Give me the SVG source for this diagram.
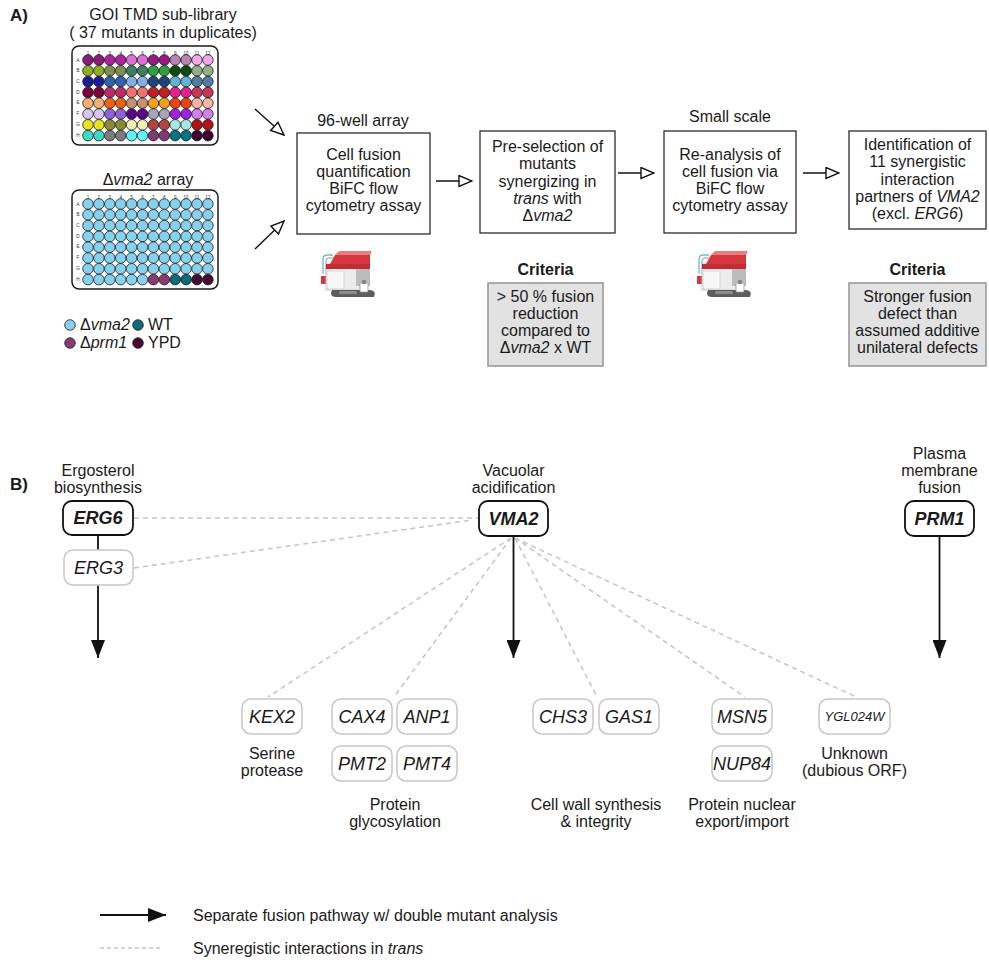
<svg xmlns="http://www.w3.org/2000/svg" xmlns:xlink="http://www.w3.org/1999/xlink" width="989" height="962" viewBox="0 0 989 962">
<style>
  text { font-family: "Liberation Sans", Arial, Helvetica, sans-serif; fill: #1a1a1a; }
  .t16 { font-size: 16px; }
  .c { text-anchor: middle; }
  .b { font-weight: bold; }
  .i { font-style: italic; }
  .lab { font-size: 17px; font-weight: bold; }
  .box { fill: #fff; stroke: #2b2b2b; stroke-width: 1.3; }
  .crit { fill: #e2e2e2; stroke: #9a9a9a; stroke-width: 1.6; }
  .plate { fill: #fff; stroke: #1a1a1a; stroke-width: 1.5; }
  .w circle { r: 5.3px; stroke: #1a1a1a; stroke-width: 0.8; }
  .tiny { font-size: 4.6px; fill: #333; text-anchor: middle; }
  .key { fill: #fff; stroke: #111; stroke-width: 1.8; }
  .gene { fill: #fff; stroke: #c6c6c6; stroke-width: 1.5; }
  .gt { font-size: 18px; font-style: italic; text-anchor: middle; }
  .dash { fill: none; stroke: #c4c4c4; stroke-width: 1.5; stroke-dasharray: 5 4; }
  .solid { fill: none; stroke: #111; stroke-width: 1.8; }
  .open { fill: none; stroke: #111; stroke-width: 1.4; }
</style>
<defs>
  <marker id="headOpen" viewBox="0 0 15 13" refX="14" refY="6.5" markerWidth="15" markerHeight="13" markerUnits="userSpaceOnUse" orient="auto">
    <path d="M1,1 L14,6.5 L1,12 Z" fill="#fff" stroke="#111" stroke-width="1.4" stroke-linejoin="miter"/>
  </marker>
  <marker id="headSolid" viewBox="0 0 18 14" refX="18" refY="7" markerWidth="18" markerHeight="14" markerUnits="userSpaceOnUse" orient="auto">
    <path d="M0,0 L18,7 L0,14 Z" fill="#111"/>
  </marker>
  <!-- small flow cytometer illustration -->
  <g id="cyto">
    <path d="M5,24 L5,9 Q5,5 9,5 L15,5" fill="none" stroke="#7fb2dc" stroke-width="1.3"/>
    <path d="M8,24 L8,11 Q8,8 11,8 L15,8" fill="none" stroke="#9a9a9a" stroke-width="1"/>
    <rect x="3" y="26" width="6" height="8" fill="#d5383f"/>
    <rect x="8" y="14" width="40" height="26" fill="#ececec" stroke="#c2c2c2" stroke-width="0.8"/>
    <rect x="9" y="21" width="17" height="18" fill="#f7f7f7" stroke="#cfcfcf" stroke-width="0.8"/>
    <rect x="38" y="16" width="14" height="20" fill="#bcbcbc"/>
    <path d="M12,14 L17,5 L52,5 L52,14 Z" fill="#d5383f"/>
    <path d="M17,5 L21,1 L54,1 L52,5 Z" fill="#ea7b7f"/>
    <rect x="8" y="14" width="44" height="5" fill="#c22d34"/>
    <path d="M14,40 L52,40 Q59,41 56,47 L17,47 Q11,46 14,40 Z" fill="#5d5d5d"/>
    <rect x="21" y="41" width="18" height="3" rx="1.5" fill="#8d8d8d"/>
    <rect x="42" y="33" width="8" height="9" rx="1" fill="#fff" stroke="#9a9a9a" stroke-width="0.8"/>
    <rect x="44" y="30" width="4" height="4" fill="#888"/>
  </g>
  <!-- one row of twelve vma2 wells -->
  <g id="blueRow" fill="#86d2ee" stroke="#1a1a1a" stroke-width="0.8">
    <circle r="5.3" cx="16"/><circle r="5.3" cx="26.9"/><circle r="5.3" cx="37.8"/><circle r="5.3" cx="48.7"/><circle r="5.3" cx="59.6"/><circle r="5.3" cx="70.5"/><circle r="5.3" cx="81.4"/><circle r="5.3" cx="92.3"/><circle r="5.3" cx="103.2"/><circle r="5.3" cx="114.1"/><circle r="5.3" cx="125"/><circle r="5.3" cx="135.9"/>
  </g>
  <g id="plateLabels">
    <text class="tiny" x="16" y="8.5">1</text><text class="tiny" x="26.9" y="8.5">2</text><text class="tiny" x="37.8" y="8.5">3</text><text class="tiny" x="48.7" y="8.5">4</text><text class="tiny" x="59.6" y="8.5">5</text><text class="tiny" x="70.5" y="8.5">6</text><text class="tiny" x="81.4" y="8.5">7</text><text class="tiny" x="92.3" y="8.5">8</text><text class="tiny" x="103.2" y="8.5">9</text><text class="tiny" x="114.1" y="8.5">10</text><text class="tiny" x="125" y="8.5">11</text><text class="tiny" x="135.9" y="8.5">12</text>
    <text class="tiny" x="6" y="15.6">A</text><text class="tiny" x="6" y="26.3">B</text><text class="tiny" x="6" y="37">C</text><text class="tiny" x="6" y="47.7">D</text><text class="tiny" x="6" y="58.4">E</text><text class="tiny" x="6" y="69.1">F</text><text class="tiny" x="6" y="79.8">G</text><text class="tiny" x="6" y="90.5">H</text>
  </g>
</defs>

<rect width="989" height="962" fill="#fff"/>

<!-- ===== Panel A ===== -->
<text class="lab" x="10" y="21">A)</text>

<g id="goi-library">
  <text class="t16 c" x="163" y="20">GOI TMD sub-library</text>
  <text class="t16 c" x="163" y="38">( 37 mutants in duplicates)</text>
  <g transform="translate(72,46)">
    <rect class="plate" x="0" y="0" width="146" height="99" rx="7"/>
    <use xlink:href="#plateLabels"/>
    <g class="w">
      <g transform="translate(0,14)">
        <circle cx="16" fill="#8a1a7c"/><circle cx="26.9" fill="#8a1a7c"/><circle cx="37.8" fill="#b0229c"/><circle cx="48.7" fill="#b0229c"/><circle cx="59.6" fill="#e070d8"/><circle cx="70.5" fill="#e070d8"/><circle cx="81.4" fill="#9c1684"/><circle cx="92.3" fill="#9c1684"/><circle cx="103.2" fill="#b884b4"/><circle cx="114.1" fill="#b884b4"/><circle cx="125" fill="#f4a8e8"/><circle cx="135.9" fill="#f4a8e8"/>
      </g>
      <g transform="translate(0,24.8)">
        <circle cx="16" fill="#8fae24"/><circle cx="26.9" fill="#8fae24"/><circle cx="37.8" fill="#7f8f50"/><circle cx="48.7" fill="#7f8f50"/><circle cx="59.6" fill="#3c7f62"/><circle cx="70.5" fill="#3c7f62"/><circle cx="81.4" fill="#2ea040"/><circle cx="92.3" fill="#2ea040"/><circle cx="103.2" fill="#0c4c0c"/><circle cx="114.1" fill="#0c4c0c"/><circle cx="125" fill="#8fb088"/><circle cx="135.9" fill="#8fb088"/>
      </g>
      <g transform="translate(0,35.6)">
        <circle cx="16" fill="#1c1c9a"/><circle cx="26.9" fill="#1c1c9a"/><circle cx="37.8" fill="#2f62b0"/><circle cx="48.7" fill="#2f62b0"/><circle cx="59.6" fill="#84aee8"/><circle cx="70.5" fill="#84aee8"/><circle cx="81.4" fill="#1e4480"/><circle cx="92.3" fill="#1e4480"/><circle cx="103.2" fill="#62b2d4"/><circle cx="114.1" fill="#62b2d4"/><circle cx="125" fill="#4f7ea6"/><circle cx="135.9" fill="#4f7ea6"/>
      </g>
      <g transform="translate(0,46.4)">
        <circle cx="16" fill="#80003a"/><circle cx="26.9" fill="#80003a"/><circle cx="37.8" fill="#c02a66"/><circle cx="48.7" fill="#c02a66"/><circle cx="59.6" fill="#f07272"/><circle cx="70.5" fill="#f07272"/><circle cx="81.4" fill="#c41e22"/><circle cx="92.3" fill="#c41e22"/><circle cx="103.2" fill="#e8208a"/><circle cx="114.1" fill="#e8208a"/><circle cx="125" fill="#c83858"/><circle cx="135.9" fill="#c83858"/>
      </g>
      <g transform="translate(0,57.2)">
        <circle cx="16" fill="#f8b070"/><circle cx="26.9" fill="#f8b070"/><circle cx="37.8" fill="#f06010"/><circle cx="48.7" fill="#f06010"/><circle cx="59.6" fill="#c49070"/><circle cx="70.5" fill="#c49070"/><circle cx="81.4" fill="#f4a018"/><circle cx="92.3" fill="#f4a018"/><circle cx="103.2" fill="#f04212"/><circle cx="114.1" fill="#f04212"/><circle cx="125" fill="#f8b4a4"/><circle cx="135.9" fill="#f8b4a4"/>
      </g>
      <g transform="translate(0,68)">
        <circle cx="16" fill="#d8c4f4"/><circle cx="26.9" fill="#d8c4f4"/><circle cx="37.8" fill="#9060d8"/><circle cx="48.7" fill="#9060d8"/><circle cx="59.6" fill="#5c0090"/><circle cx="70.5" fill="#5c0090"/><circle cx="81.4" fill="#a6a6b8"/><circle cx="92.3" fill="#a6a6b8"/><circle cx="103.2" fill="#a020e4"/><circle cx="114.1" fill="#a020e4"/><circle cx="125" fill="#d080f0"/><circle cx="135.9" fill="#d080f0"/>
      </g>
      <g transform="translate(0,78.8)">
        <circle cx="16" fill="#e8e41c"/><circle cx="26.9" fill="#e8e41c"/><circle cx="37.8" fill="#8a8a34"/><circle cx="48.7" fill="#8a8a34"/><circle cx="59.6" fill="#ecf0b4"/><circle cx="70.5" fill="#ecf0b4"/><circle cx="81.4" fill="#b44444"/><circle cx="92.3" fill="#b44444"/><circle cx="103.2" fill="#a4e8e0"/><circle cx="114.1" fill="#a4e8e0"/><circle cx="125" fill="#b01414"/><circle cx="135.9" fill="#b01414"/>
      </g>
      <g transform="translate(0,89.6)">
        <circle cx="16" fill="#3cd8c8"/><circle cx="26.9" fill="#3cd8c8"/><circle cx="37.8" fill="#7c7c7c"/><circle cx="48.7" fill="#7c7c7c"/><circle cx="59.6" fill="#5cf4f4"/><circle cx="70.5" fill="#5cf4f4"/><circle cx="81.4" fill="#803a72"/><circle cx="92.3" fill="#803a72"/><circle cx="103.2" fill="#007484"/><circle cx="114.1" fill="#007484"/><circle cx="125" fill="#3e0032"/><circle cx="135.9" fill="#3e0032"/>
      </g>
    </g>
  </g>
</g>

<g id="vma2-array">
  <text class="t16 c" x="148" y="185">Δ<tspan class="i">vma2</tspan> array</text>
  <g transform="translate(72,190)">
    <rect class="plate" x="0" y="0" width="146" height="99" rx="7"/>
    <use xlink:href="#plateLabels"/>
    <use xlink:href="#blueRow" y="14"/>
    <use xlink:href="#blueRow" y="24.8"/>
    <use xlink:href="#blueRow" y="35.6"/>
    <use xlink:href="#blueRow" y="46.4"/>
    <use xlink:href="#blueRow" y="57.2"/>
    <use xlink:href="#blueRow" y="68"/>
    <use xlink:href="#blueRow" y="78.8"/>
    <g class="w" fill="#86d2ee" transform="translate(0,89.6)">
      <circle cx="16"/><circle cx="26.9"/><circle cx="37.8"/><circle cx="48.7"/><circle cx="59.6"/><circle cx="70.5"/>
      <circle cx="81.4" fill="#8a3a72"/><circle cx="92.3" fill="#8a3a72"/><circle cx="103.2" fill="#0b6b78"/><circle cx="114.1" fill="#0b6b78"/><circle cx="125" fill="#470a33"/><circle cx="135.9" fill="#470a33"/>
    </g>
  </g>
  <!-- well legend -->
  <g class="w">
    <circle cx="70" cy="325" fill="#86d2ee"/>
    <circle cx="70" cy="343" fill="#8a3a72"/>
    <circle cx="138" cy="325" fill="#0b6b78"/>
    <circle cx="138" cy="343" fill="#470a33"/>
  </g>
  <text class="t16" x="80" y="330">Δ<tspan class="i">vma2</tspan></text>
  <text class="t16" x="80" y="348">Δ<tspan class="i">prm1</tspan></text>
  <text class="t16" x="148" y="330">WT</text>
  <text class="t16" x="148" y="348">YPD</text>
</g>

<g id="step-screen">
  <text class="t16 c" x="363" y="126">96-well array</text>
  <rect class="box" x="297" y="133" width="133" height="101"/>
  <text class="t16 c" x="363.5" y="160">Cell fusion<tspan x="363.5" dy="17">quantification</tspan><tspan x="363.5" dy="17">BiFC flow</tspan><tspan x="363.5" dy="17">cytometry assay</tspan></text>
  <use xlink:href="#cyto" x="318" y="250"/>
</g>

<g id="step-preselection">
  <rect class="box" x="480" y="131" width="135" height="102"/>
  <text class="t16 c" x="547.5" y="152">Pre-selection of<tspan x="547.5" dy="17.3">mutants</tspan><tspan x="547.5" dy="17.3">synergizing in</tspan><tspan x="547.5" dy="17.3"><tspan class="i">trans</tspan> with</tspan><tspan x="547.5" dy="17.3">Δ<tspan class="i">vma2</tspan></tspan></text>
  <text class="t16 c b" x="545.5" y="275">Criteria</text>
  <rect class="crit" x="488" y="283" width="115" height="83"/>
  <text class="t16 c" x="545.5" y="302">&gt; 50 % fusion<tspan x="545.5" dy="17">reduction</tspan><tspan x="545.5" dy="17">compared to</tspan><tspan x="545.5" dy="17">Δ<tspan class="i">vma2</tspan> x WT</tspan></text>
</g>

<g id="step-reanalysis">
  <text class="t16 c" x="730" y="122">Small scale</text>
  <rect class="box" x="664" y="131" width="132" height="102"/>
  <text class="t16 c" x="730" y="160">Re-analysis of<tspan x="730" dy="17">cell fusion via</tspan><tspan x="730" dy="17">BiFC flow</tspan><tspan x="730" dy="17">cytometry assay</tspan></text>
  <use xlink:href="#cyto" x="694" y="250"/>
</g>

<g id="step-identification">
  <rect class="box" x="849" y="131" width="137" height="98"/>
  <text class="t16 c" x="917.5" y="150">Identification of<tspan x="917.5" dy="17.3">11 synergistic</tspan><tspan x="917.5" dy="17.3">interaction</tspan><tspan x="917.5" dy="17.3">partners of <tspan class="i">VMA2</tspan></tspan><tspan x="917.5" dy="17.3">(excl. <tspan class="i">ERG6</tspan>)</tspan></text>
  <text class="t16 c b" x="917.5" y="275">Criteria</text>
  <rect class="crit" x="849" y="283" width="137" height="83"/>
  <text class="t16 c" x="917.5" y="302">Stronger fusion<tspan x="917.5" dy="17">defect than</tspan><tspan x="917.5" dy="17">assumed additive</tspan><tspan x="917.5" dy="17">unilateral defects</tspan></text>
</g>

<g id="workflow-connectors">
  <line class="open" x1="255" y1="109" x2="284" y2="135" marker-end="url(#headOpen)"/>
  <line class="open" x1="255" y1="249" x2="284" y2="221" marker-end="url(#headOpen)"/>
  <line class="open" x1="436" y1="181" x2="472" y2="181" marker-end="url(#headOpen)"/>
  <line class="open" x1="618" y1="173" x2="654" y2="173" marker-end="url(#headOpen)"/>
  <line class="open" x1="803" y1="173" x2="839" y2="173" marker-end="url(#headOpen)"/>
</g>

<!-- ===== Panel B ===== -->
<text class="lab" x="10" y="490">B)</text>

<g id="interaction-connectors">
  <line class="dash" x1="134" y1="518" x2="478" y2="518"/>
  <line class="dash" x1="134" y1="568" x2="472" y2="520"/>
  <line class="dash" x1="511" y1="538" x2="268" y2="697"/>
  <line class="dash" x1="511" y1="538" x2="394" y2="697"/>
  <line class="dash" x1="515" y1="538" x2="596" y2="695"/>
  <line class="dash" x1="515" y1="538" x2="745" y2="697"/>
  <line class="dash" x1="515" y1="538" x2="856" y2="697"/>
  <line class="solid" x1="98" y1="535" x2="98" y2="550"/>
  <line class="solid" x1="98" y1="585" x2="98" y2="658" marker-end="url(#headSolid)"/>
  <line class="solid" x1="513.5" y1="536" x2="513.5" y2="658" marker-end="url(#headSolid)"/>
  <line class="solid" x1="939.5" y1="536" x2="939.5" y2="658" marker-end="url(#headSolid)"/>
</g>

<g id="node-ERG6">
  <text class="t16 c" x="98" y="476">Ergosterol<tspan x="98" dy="17">biosynthesis</tspan></text>
  <rect class="key" x="63" y="501" width="70" height="34" rx="9"/>
  <text class="gt b" x="98" y="524">ERG6</text>
</g>
<g id="node-ERG3">
  <rect class="gene" x="64" y="550" width="69" height="35" rx="9"/>
  <text class="gt" x="98.5" y="574">ERG3</text>
</g>
<g id="node-VMA2">
  <text class="t16 c" x="513.5" y="476">Vacuolar<tspan x="513.5" dy="17">acidification</tspan></text>
  <rect class="key" x="479" y="501" width="69" height="35" rx="9"/>
  <text class="gt b" x="513.5" y="525">VMA2</text>
</g>
<g id="node-PRM1">
  <text class="t16 c" x="939.5" y="459">Plasma<tspan x="939.5" dy="17">membrane</tspan><tspan x="939.5" dy="17">fusion</tspan></text>
  <rect class="key" x="905" y="501" width="69" height="35" rx="9"/>
  <text class="gt b" x="939.5" y="525">PRM1</text>
</g>

<g id="node-KEX2">
  <rect class="gene" x="242" y="699" width="60" height="35" rx="9"/>
  <text class="gt" x="272" y="723">KEX2</text>
  <text class="t16 c" x="272" y="759">Serine<tspan x="272" dy="17">protease</tspan></text>
</g>
<g id="node-CAX4">
  <rect class="gene" x="332" y="699" width="60" height="35" rx="9"/>
  <text class="gt" x="362" y="723">CAX4</text>
</g>
<g id="node-ANP1">
  <rect class="gene" x="397" y="699" width="60" height="35" rx="9"/>
  <text class="gt" x="427" y="723">ANP1</text>
</g>
<g id="node-PMT2">
  <rect class="gene" x="332" y="746" width="60" height="35" rx="9"/>
  <text class="gt" x="362" y="770">PMT2</text>
</g>
<g id="node-PMT4">
  <rect class="gene" x="397" y="746" width="60" height="35" rx="9"/>
  <text class="gt" x="427" y="770">PMT4</text>
</g>
<text class="t16 c" x="395" y="810">Protein<tspan x="395" dy="17">glycosylation</tspan></text>

<g id="node-CHS3">
  <rect class="gene" x="533" y="699" width="60" height="35" rx="9"/>
  <text class="gt" x="563" y="723">CHS3</text>
</g>
<g id="node-GAS1">
  <rect class="gene" x="599" y="699" width="60" height="35" rx="9"/>
  <text class="gt" x="629" y="723">GAS1</text>
</g>
<text class="t16 c" x="596" y="810">Cell wall synthesis<tspan x="596" dy="17">&amp; integrity</tspan></text>

<g id="node-MSN5">
  <rect class="gene" x="712" y="699" width="60" height="35" rx="9"/>
  <text class="gt" x="742" y="723">MSN5</text>
</g>
<g id="node-NUP84">
  <rect class="gene" x="712" y="746" width="60" height="35" rx="9"/>
  <text class="gt" x="742" y="770">NUP84</text>
</g>
<text class="t16 c" x="742" y="810">Protein nuclear<tspan x="742" dy="17">export/import</tspan></text>

<g id="node-YGL024W">
  <rect class="gene" x="819" y="699" width="71" height="35" rx="9"/>
  <text class="i c" style="font-size:13px" x="854.5" y="721">YGL024W</text>
  <text class="t16 c" x="854.5" y="759">Unknown<tspan x="854.5" dy="17">(dubious ORF)</tspan></text>
</g>

<!-- key -->
<g id="key">
  <line class="solid" x1="100" y1="915" x2="166" y2="915" marker-end="url(#headSolid)"/>
  <text class="t16" x="193" y="921">Separate fusion pathway w/ double mutant analysis</text>
  <line x1="100" y1="948" x2="162" y2="948" stroke="#c8c8c8" stroke-width="1.3" stroke-dasharray="4 3"/>
  <text class="t16" x="193" y="954">Syneregistic interactions in <tspan class="i">trans</tspan></text>
</g>
</svg>
